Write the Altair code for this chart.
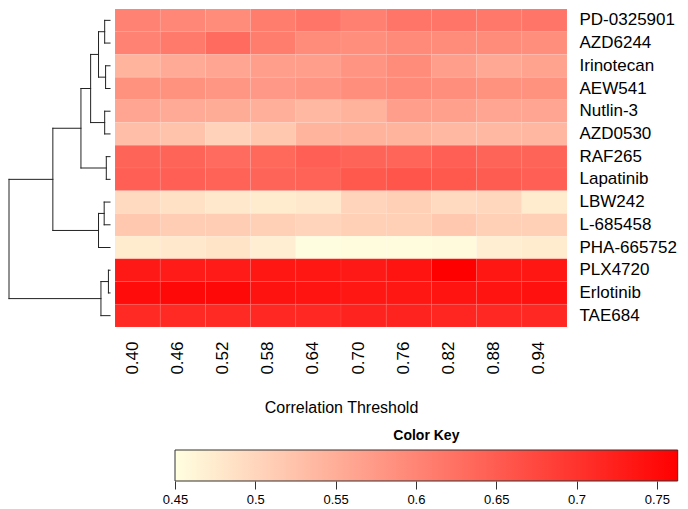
import altair as alt
import pandas as pd

# ---------------- data ----------------
thresholds = ["0.40", "0.46", "0.52", "0.58", "0.64", "0.70", "0.76", "0.82", "0.88", "0.94"]
drugs = ["PD-0325901", "AZD6244", "Irinotecan", "AEW541", "Nutlin-3", "AZD0530", "RAF265",
         "Lapatinib", "LBW242", "L-685458", "PHA-665752", "PLX4720", "Erlotinib", "TAE684"]

v_pd0325901 = [0.603, 0.597, 0.591, 0.610, 0.618, 0.606, 0.618, 0.618, 0.616, 0.618]
v_azd6244   = [0.603, 0.613, 0.630, 0.610, 0.591, 0.589, 0.594, 0.591, 0.591, 0.589]
v_irinotecan = [0.542, 0.554, 0.560, 0.569, 0.569, 0.581, 0.591, 0.569, 0.557, 0.564]
v_aew541    = [0.585, 0.585, 0.579, 0.576, 0.581, 0.589, 0.594, 0.589, 0.585, 0.585]
v_nutlin3   = [0.560, 0.554, 0.552, 0.548, 0.536, 0.545, 0.569, 0.567, 0.560, 0.560]
v_azd0530   = [0.530, 0.524, 0.505, 0.518, 0.542, 0.545, 0.542, 0.536, 0.536, 0.538]
v_raf265    = [0.640, 0.640, 0.630, 0.634, 0.646, 0.640, 0.638, 0.646, 0.640, 0.640]
v_lapatinib = [0.646, 0.646, 0.643, 0.640, 0.643, 0.655, 0.659, 0.655, 0.650, 0.646]
v_lbw242    = [0.495, 0.487, 0.478, 0.475, 0.478, 0.503, 0.508, 0.495, 0.499, 0.475]
v_l685458   = [0.518, 0.511, 0.511, 0.508, 0.503, 0.508, 0.508, 0.518, 0.508, 0.508]
v_pha665752 = [0.475, 0.478, 0.483, 0.471, 0.452, 0.454, 0.454, 0.456, 0.471, 0.475]
v_plx4720   = [0.732, 0.730, 0.730, 0.735, 0.735, 0.732, 0.738, 0.763, 0.735, 0.735]
v_erlotinib = [0.748, 0.752, 0.752, 0.740, 0.738, 0.735, 0.735, 0.738, 0.738, 0.742]
v_tae684    = [0.712, 0.712, 0.712, 0.714, 0.714, 0.720, 0.720, 0.718, 0.714, 0.714]

row_values = [v_pd0325901, v_azd6244, v_irinotecan, v_aew541, v_nutlin3, v_azd0530, v_raf265,
              v_lapatinib, v_lbw242, v_l685458, v_pha665752, v_plx4720, v_erlotinib, v_tae684]

# dendrogram merges (hierarchical clustering), heights relative to root
merge_a = ["PD-0325901", "Irinotecan", "m0", "Nutlin-3", "m2", "RAF265", "m4",
           "LBW242", "m7", "m6", "PLX4720", "m10", "m9"]
merge_b = ["AZD6244", "AEW541", "m1", "AZD0530", "m3", "Lapatinib", "m5",
           "L-685458", "PHA-665752", "m8", "Erlotinib", "TAE684", "m11"]
merge_h = [0.053, 0.044, 0.114, 0.053, 0.192, 0.037, 0.288,
           0.058, 0.114, 0.566, 0.016, 0.090, 1.0]

key_min, key_max = 0.45, 0.763
key_ticks = [0.45, 0.5, 0.55, 0.6, 0.65, 0.7, 0.75]

# ---------------- tables ----------------
heat_rows = []
for d, vals in zip(drugs, row_values):
    for t, v in zip(thresholds, vals):
        heat_rows.append({"drug": d, "threshold": t, "value": v})
heat_df = pd.DataFrame(heat_rows)

pos = {d: float(i) for i, d in enumerate(drugs)}
hgt = {d: 0.0 for d in drugs}
segs = []
for k, (a, b, h) in enumerate(zip(merge_a, merge_b, merge_h)):
    pa, pb, ha, hb = pos[a], pos[b], hgt[a], hgt[b]
    segs.append({"x": ha, "x2": h, "y": pa, "y2": pa})
    segs.append({"x": hb, "x2": h, "y": pb, "y2": pb})
    segs.append({"x": h, "x2": h, "y": pa, "y2": pb})
    pos[f"m{k}"] = (pa + pb) / 2
    hgt[f"m{k}"] = h
seg_df = pd.DataFrame(segs)

color_scale = alt.Scale(domain=[key_min, key_max], range=["#FFFFE0", "#FF0000"], interpolate="rgb")
FONT = "Liberation Sans"
H = 318

# ---------------- charts ----------------
dendro = alt.Chart(seg_df).mark_rule(color="#222222", strokeWidth=1, strokeCap="square").encode(
    x=alt.X("x:Q", scale=alt.Scale(domain=[-0.0392, 1.0], reverse=True, nice=False, zero=False), axis=None),
    x2="x2:Q",
    y=alt.Y("y:Q", scale=alt.Scale(domain=[-0.5, 13.5], reverse=True, nice=False, zero=False), axis=None),
    y2="y2:Q",
).properties(width=105, height=H)

heat = alt.Chart(heat_df).mark_rect(stroke="white", strokeWidth=0.4, strokeOpacity=0.15).encode(
    x=alt.X("threshold:O", sort=thresholds,
            scale=alt.Scale(paddingInner=0, paddingOuter=0),
            axis=alt.Axis(title="Correlation Threshold", labelAngle=270, labelBaseline="alphabetic",
                          labelAlign="right", labelPadding=14, labelFontSize=17, ticks=False,
                          domain=False, titleFontSize=16, titleFontWeight="normal",
                          titlePadding=25, labelFont=FONT, titleFont=FONT)),
    y=alt.Y("drug:O", sort=drugs,
            scale=alt.Scale(paddingInner=0, paddingOuter=0),
            axis=alt.Axis(title=None, orient="right", labelFontSize=17, labelPadding=12,
                          ticks=False, domain=False, labelFont=FONT)),
    color=alt.Color("value:Q", scale=color_scale, legend=None),
).properties(width=452, height=H)

top = alt.hconcat(dendro, heat, spacing=0)

key_df = pd.DataFrame({"lo": [key_min], "hi": [key_max]})
key_x = alt.Scale(domain=[0.34664, 0.76318], nice=False, zero=False)
grad = alt.LinearGradient(gradient="linear", x1=0, x2=1, y1=0, y2=0,
                          stops=[alt.GradientStop(color="#FFFFE0", offset=0),
                                 alt.GradientStop(color="#FF0000", offset=1)])
key_bar = alt.Chart(key_df).mark_rect(color=grad, stroke="#333333", strokeWidth=1).encode(
    x=alt.X("lo:Q", scale=key_x,
            axis=alt.Axis(title=None, values=key_ticks, format="~g", domain=False, grid=False,
                          tickSize=8, tickColor="#333333", labelFontSize=13, labelPadding=4,
                          labelFont=FONT, labelFlush=False)),
    x2="hi:Q",
    y=alt.value(16),
    y2=alt.value(47),
)
key_title = alt.Chart(key_df).mark_text(text="Color Key", fontSize=14, fontWeight="bold",
                                        font=FONT, baseline="middle", color="black").encode(
    x=alt.datum((key_min + key_max) / 2, scale=key_x),
    y=alt.value(2),
)
key = alt.layer(key_bar, key_title).properties(width=669, height=47)

chart = alt.vconcat(top, key, spacing=13).properties(padding=0).configure(
    font=FONT
).configure_view(
    strokeWidth=0, stroke="transparent"
).configure_axis(labelColor="black", titleColor="black")

chart.save("out.html", embed_options={"renderer": "svg", "actions": False})
